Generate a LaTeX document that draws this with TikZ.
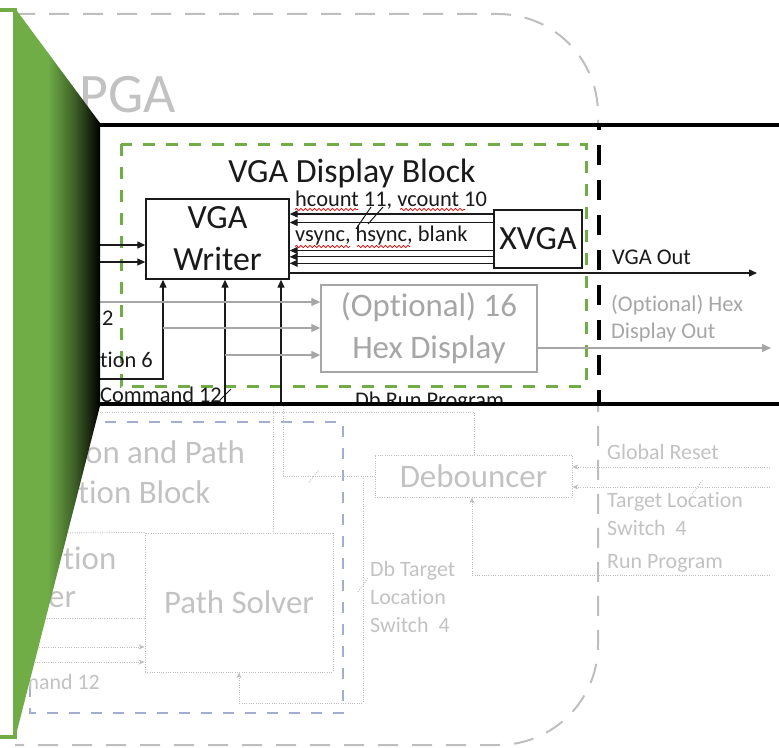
\documentclass[tikz,border=0pt]{standalone}
\usepackage{fontspec}
\setmainfont{Carlito}[Ligatures=NoCommon]
\usetikzlibrary{arrows.meta,decorations.pathmorphing}
\definecolor{fgreen}{HTML}{70AD47}
\definecolor{hexgray}{HTML}{A6A6A6}
\definecolor{ghostgray}{HTML}{BEBEBE}
\definecolor{ghostblue}{HTML}{A3ADD0}
\definecolor{ink}{HTML}{1A1A1A}
\pgfdeclarehorizontalshading{calloutfade}{100bp}{color(0bp)=(fgreen); color(44bp)=(fgreen); color(60bp)=(fgreen!55!black); color(75bp)=(black); color(100bp)=(black)}

\begin{document}
\begin{tikzpicture}[x=1bp,y=-1bp,
  box/.style={draw=ink, line width=1.4bp, inner sep=0, align=center, text=ink},
  hexbox/.style={draw=hexgray, line width=1.4bp, inner sep=0, align=center, text=hexgray},
  sig/.style={draw=ink, line width=1.3bp, -{Triangle[length=8bp,width=7bp]}},
  gsig/.style={draw=hexgray, line width=1.3bp, -{Triangle[length=9bp,width=8bp]}},
  lbl/.style={inner sep=0, text=ink, font=\fontsize{22.5}{27}\selectfont},
  big/.style={font=\fontsize{34}{42}\selectfont},
  squiggle/.style={draw=red!85!black, line width=0.7bp, decorate, decoration={snake, amplitude=1.1bp, segment length=4.5bp}},
  busmark/.style={draw=ink, line width=1bp},
  ghost/.style={draw=ghostgray, line width=0.9bp, dash pattern=on 1bp off 1.3bp},
  ghostarrow/.style={ghost, -{Stealth[length=6bp,width=5bp]}},
  ghostframe/.style={draw=ghostgray, line width=2bp, dash pattern=on 20bp off 14bp},
  ghostbound/.style={draw=ghostblue, line width=1.5bp, dash pattern=on 11bp off 11bp},
  ghostbox/.style={ghost, inner sep=0, align=center, text=black!24},
  ghosttext/.style={inner sep=0, text=black!24, align=left},
]
\useasboundingbox (0,0) rectangle (779,748);

% ---------- faded surroundings of the FPGA ----------
\draw[ghostframe, rounded corners=100bp] (15,14) -- (598,14) -- (598,745) -- (15,745);
\node[ghosttext, anchor=east, font=\fontsize{56}{60}\selectfont] (fpga) at (176,95) {PGA};
\draw[ghostbound] (30,422) rectangle (343,713);

\node[ghostbox, font=\fontsize{33}{40}\selectfont, minimum width=197bp, minimum height=42bp] (deb) at (473.5,476) {Debouncer};
\node[ghostbox, font=\fontsize{33}{40}\selectfont, minimum width=188bp, minimum height=139bp] (ps) at (239,602.5) {Path Solver};

\node[ghosttext, anchor=west, font=\fontsize{33}{40}\selectfont] (calc1) at (85,452) {on and Path};
\node[ghosttext, anchor=west, font=\fontsize{33}{40}\selectfont] (calc2) at (78,492) {tion Block};
\node[ghosttext, anchor=west, font=\fontsize{33}{40}\selectfont] (loc1) at (63,558) {tion};
\node[ghosttext, anchor=west, font=\fontsize{33}{40}\selectfont] (loc2) at (48,600) {er};
\node[ghosttext, anchor=east, font=\fontsize{22}{27}\selectfont] (cmd2) at (100,682) {mand 12};

\coordinate (lt) at (40,533);
\coordinate (lb) at (40,618);
\draw[ghost] (lt) -- (ps.north west);
\draw[ghost] (lb) -- (ps.west |- lb);
\coordinate (lc1) at (30,647);
\coordinate (lc2) at (30,662);
\draw[ghostarrow] (lc1) -- (ps.west |- lc1);
\draw[ghostarrow] (lc2) -- (ps.west |- lc2);

% Db Run Program
\coordinate (rp0) at (100,412);
\coordinate (rp1) at (474,412);
\draw[ghost] (rp0) -- (rp1) -- (deb.north -| rp1);
% Db Target Location
\coordinate (tl0) at (283,404);
\draw[ghost] (tl0) |- (deb.west);
\draw[ghost] (309,482) -- (319,470);
\coordinate (tl1) at (363,476);
\coordinate (tl2) at (363,703);
\coordinate (tl3) at (239,703);
\draw[ghostarrow] (tl1) -- (tl2) -- (tl3) -- (ps.south);
\draw[ghost] (358,592) -- (368,578);
% path solver output
\coordinate (po) at (273,404);
\draw[ghost] (po) -- (ps.north -| po);

% inputs from the right
\coordinate (gr) at (770,467);
\coordinate (ts) at (770,487);
\coordinate (rn) at (770,575);
\coordinate (rnc) at (472,575);
\draw[ghostarrow] (gr) -- (deb.east |- gr);
\draw[ghostarrow] (ts) -- (deb.east |- ts);
\draw[ghost] (692,494) -- (703,480);
\draw[ghostarrow] (rn) -- (rnc) -- (deb.south -| rnc);

\node[ghosttext, anchor=west, font=\fontsize{22}{27}\selectfont] (lgr) at (607,452) {Global Reset};
\node[ghosttext, anchor=west, font=\fontsize{22}{28}\selectfont] (lts) at (607,514) {Target Location\\Switch\ \ 4};
\node[ghosttext, anchor=west, font=\fontsize{22}{27}\selectfont] (lrn) at (607,563) {Run Program};
\node[ghosttext, anchor=west, font=\fontsize{22}{28.5}\selectfont] (ldb) at (370,597) {Db Target\\Location\\Switch\ \ 4};

% ---------- magnified VGA strip ----------
\fill[white] (100,125) rectangle (779,404);
\begin{scope}
\clip (100,125) rectangle (779,404);

\draw[fgreen, line width=3bp, dash pattern=on 12bp off 11bp] (121,144) rectangle (586,386);
\draw[black, line width=4.5bp, dash pattern=on 20bp off 15bp, dash phase=15bp] (599,125) -- (599,404);

\node[inner sep=0, text=ink, font=\fontsize{34}{38}\selectfont] (title) at (352,173) {VGA Display Block};

\node[box, big, minimum width=143bp, minimum height=80bp] (writer) at (217.5,239) {VGA\\Writer};
\node[box, big, minimum width=88bp, minimum height=58bp] (xvga) at (538,239) {XVGA};
\node[hexbox, font=\fontsize{33}{42}\selectfont, minimum width=216bp, minimum height=87bp] (hex) at (429,328.5) {(Optional) 16\\Hex Display};

% XVGA to writer
\foreach \yy in {214,222.5,250.5,256.8,263.3}{
  \coordinate (t) at (0,\yy);
  \draw[sig] (xvga.west |- t) -- (writer.east |- t);
}
\draw[busmark] (356,229) -- (371,207);
\draw[busmark] (368,224) -- (383,207);

\node[lbl, anchor=west] (hv) at (295,200) {hcount 11, vcount 10};
\node[lbl, anchor=west] (sync) at (295,236) {vsync, hsync, blank};
\draw[squiggle] (295,209.5) -- (358,209.5);
\draw[squiggle] (400,209.5) -- (465,209.5);
\draw[squiggle] (295,246.5) -- (350,246.5);
\draw[squiggle] (357,246.5) -- (410,246.5);

% VGA out
\coordinate (vgaout) at (757,273);
\draw[sig] (writer.east |- vgaout) -- (vgaout);
\node[lbl, anchor=west] (lvga) at (612,257) {VGA Out};

% inputs on the left
\coordinate (inA) at (100,245);
\coordinate (inB) at (100,262);
\draw[sig] (inA) -- (writer.west |- inA);
\draw[sig] (inB) -- (writer.west |- inB);

\coordinate (l6) at (100,379);
\coordinate (b1) at (163,379);
\coordinate (b2) at (225,404);
\coordinate (b3) at (281,404);
\draw[sig] (l6) -- (b1) -- (writer.south -| b1);
\draw[sig] (b2) -- (writer.south -| b2);
\draw[sig] (b3) -- (writer.south -| b3);
\draw[busmark] (220,400) -- (231,389);

% hex display feeds
\coordinate (g1) at (100,302);
\coordinate (g2) at (163,328);
\coordinate (g3) at (225,355);
\draw[gsig] (g1) -- (hex.west |- g1);
\draw[gsig] (g2) -- (hex.west |- g2);
\draw[gsig] (g3) -- (hex.west |- g3);
\coordinate (hexout) at (771,348);
\draw[gsig] (hex.east |- hexout) -- (hexout);
\node[lbl, anchor=west, text=hexgray, align=left] (lhex) at (611,318.5) {(Optional) Hex\\Display Out};

\node[lbl, anchor=west] (l2) at (102,318) {2};
\node[lbl, anchor=west] (l6t) at (100,360) {tion 6};
\node[lbl, anchor=base west] (lcmd) at (100,402.5) {Command 12};
\node[lbl, anchor=base west] (ldbr) at (355,407) {Db Run Program};
\end{scope}
\draw[black, line width=4.5bp] (100,125) -- (779,125);
\draw[black, line width=4.5bp] (100,404) -- (779,404);

% ---------- zoom callout ----------
\draw[fgreen, line width=3.5bp, fill=white] (-10,10) rectangle (15,737);
\shade[shading=calloutfade] (15,8.25) -- (100,123) -- (100,406) -- (15,738.75) -- cycle;
\end{tikzpicture}
\end{document}
